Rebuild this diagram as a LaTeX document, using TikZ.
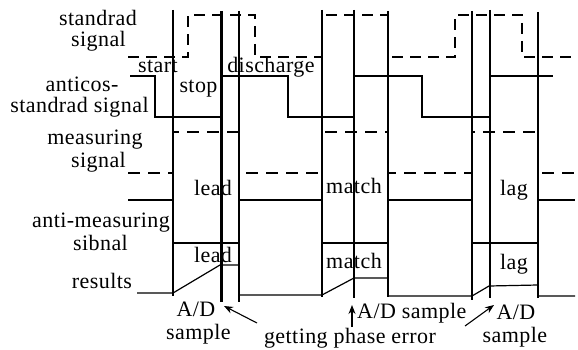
\documentclass[tikz,border=0pt]{standalone}
\usepackage{fontspec}
\setmainfont{Liberation Serif}[LetterSpace=2]
\usetikzlibrary{arrows.meta}
\begin{document}
\begin{tikzpicture}[x=1pt,y=-1pt,
  lbl/.style={inner sep=0pt, anchor=base, font=\fontsize{22}{24}\selectfont},
  vline/.style={line width=2.2pt},
  stdsig/.style={line width=2.2pt, dash pattern=on 11pt off 7pt},
  meassig/.style={line width=1.6pt, dash pattern=on 12pt off 8pt},
  thinsig/.style={line width=1.2pt},
  pointer/.style={line width=1.1pt, -{Stealth[length=9pt,width=7pt]}}]
\useasboundingbox (0,0) rectangle (578,350);

% vertical reference lines
\foreach \x/\a/\b in {173/10/296, 221.5/11/302, 239/11/302, 322/10/297, 354/10/298, 388/11/297, 472/11/300, 490/10/298, 538/12/298}
  \draw[vline] (\x,\a) -- (\x,\b);

% standard signal
\draw[stdsig] (128,57) -- (188,57) -- (188,15) -- (255,15) -- (255,57) -- (322,57) -- (322,15) -- (388,15) -- (388,57) -- (455,57) -- (455,15) -- (522,15) -- (522,57) -- (578,57);

% anticos-standard signal
\draw[thinsig] (130,76) -- (155,76) -- (155,117) -- (221.5,117) -- (221.5,76) -- (288,76) -- (288,117) -- (354,117) -- (354,76) -- (422,76) -- (422,117) -- (490,117) -- (490,76) -- (553,76);

% measuring signal
\draw[meassig] (128,173) -- (173,173) -- (173,132) -- (239,132) -- (239,173) -- (322,173) -- (322,132) -- (388,132) -- (388,173) -- (472,173) -- (472,132) -- (538,132) -- (538,173) -- (578,173);

% anti-measuring signal
\draw[thinsig] (128,200) -- (173,200) -- (173,243) -- (239,243) -- (239,200) -- (322,200) -- (322,243) -- (388,243) -- (388,200) -- (472,200) -- (472,243) -- (538,243) -- (538,200) -- (575,200);

% results
\draw[thinsig] (137,293) -- (173,293) -- (220,265) -- (239,265) -- (239,295) -- (322,295) -- (354,278) -- (388,278) -- (388,296) -- (472,296) -- (489,286) -- (538,285) -- (538,296) -- (575,296);

% labels
\node[lbl] (l1) at (98,26) {standrad};
\node[lbl] (l2) at (98.5,47) {signal};
\node[lbl] (l3) at (82,91.5) {anticos-};
\node[lbl] (l4) at (79.5,112.5) {standrad signal};
\node[lbl] (l5) at (95,144) {measuring};
\node[lbl] (l6) at (98.5,167) {signal};
\node[lbl] (l7) at (101,227) {anti-measuring};
\node[lbl] (l8) at (100.5,250) {sibnal};
\node[lbl] (l9) at (102,288) {results};

\node[lbl] (start) at (158,73) {start};
\node[lbl] (stop) at (198.5,93) {stop};
\node[lbl] (dis) at (271,73) {discharge};
\node[lbl] (lead1) at (213,195) {lead};
\node[lbl] (lead2) at (213,262) {lead};
\node[lbl] (match1) at (354,193) {match};
\node[lbl] (match2) at (354,268) {match};
\node[lbl] (lag1) at (514,195) {lag};
\node[lbl] (lag2) at (514,269) {lag};

\node[lbl] (ad1) at (196,316.5) {A/D};
\node[lbl] (sm1) at (198.5,339) {sample};
\node[lbl] (gpe) at (350,343) {getting phase error};
\node[lbl, anchor=base west] (ad2) at (357,318) {A/D sample};
\node[lbl] (ad3) at (516,319) {A/D};
\node[lbl] (sm3) at (515,342) {sample};

% pointers
\coordinate (p1s) at (257,323);
\coordinate (p1e) at (224,306);
\coordinate (p2s) at (352,327);
\coordinate (p2e) at (352,305);
\coordinate (p3s) at (465,326);
\coordinate (p3e) at (494,305);
\draw[pointer] (p1s) -- (p1e);
\draw[pointer] (p2s) -- (p2e);
\draw[pointer] (p3s) -- (p3e);
\end{tikzpicture}
\end{document}
